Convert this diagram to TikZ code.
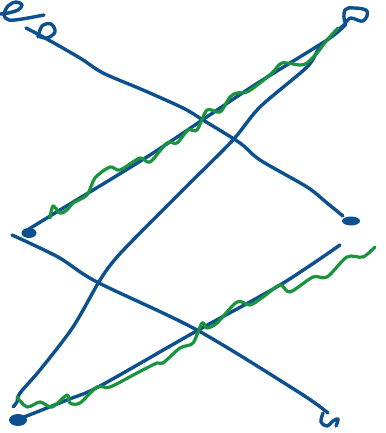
\documentclass[tikz,border=0pt]{standalone}
\definecolor{inkblue}{RGB}{12,80,142}
\definecolor{inkgreen}{RGB}{26,148,60}
\begin{document}
\begin{tikzpicture}[x=1pt,y=-1pt,
  blue/.style={draw=inkblue,line width=3.4pt,line cap=round,line join=round},
  green/.style={draw=inkgreen,line width=3.2pt,line cap=round,line join=round},
  blob/.style={fill=inkblue}]
\useasboundingbox (0,0) rectangle (385,433);
% top-left "e" scribble
\draw[blue] plot[smooth,tension=0.6] coordinates {(0,14) (8,13) (18,10) (22,5) (16,2) (8,6) (4,15) (9,20) (22,19) (44,15)};
% "b" loop and line A
\draw[blue] plot[smooth,tension=0.6] coordinates {(38,37) (42,26) (51,24) (55,32) (47,38) (38,36)};
\draw[blue] plot[smooth,tension=0.5] coordinates {(26,28) (45,38) (80,58) (103,73) (143,90) (183,108) (203,120) (240,143) (260,160) (307,187) (327,203) (343,216)};
\fill[blob] (351,221) ellipse (9pt and 4.5pt);
% top-right loop
\draw[blue] plot[smooth cycle,tension=0.7] coordinates {(345,22) (345,10) (354,8) (367,11) (363,21) (351,18)};
% line B (top right to middle-left blob)
\draw[blue] plot[smooth,tension=0.5] coordinates {(346,24) (327,40) (250,88) (150,155) (60,210) (24,232)};
\fill[blob] (29,233) ellipse (7.5pt and 5pt);
% line C (top right to bottom left)
\draw[blue] plot[smooth,tension=0.5] coordinates {(345,24) (320,47) (307,67) (260,107) (233,140) (193,180) (160,213) (143,230) (117,257) (100,280) (73,327) (40,370) (20,393) (17,402) (13,407)};
% line D (middle-left down to bottom right hook)
\draw[blue] plot[smooth,tension=0.5] coordinates {(12,235) (58,257) (97,282) (197,330) (300,393) (328,413)};
\draw[blue] plot[smooth,tension=0.6] coordinates {(323,413) (321,422) (327,426) (333,421) (338,419) (336,426)};
% line E (bottom left to right)
\draw[blue] plot[smooth,tension=0.5] coordinates {(14,421) (67,400) (100,386) (193,333) (280,285) (340,245)};
\fill[blob] (18,420) ellipse (9pt and 6pt);
% green wave 1
\draw[green] plot[smooth,tension=0.5] coordinates {(50,218) (53,206) (60,213) (67,210) (73,203) (87,195) (95,178) (110,167) (120,170) (140,158) (150,162) (167,143) (177,143) (188,130) (197,130) (207,110) (220,112) (230,97) (237,93) (247,92) (260,83) (273,72) (282,63) (300,65) (307,63) (317,53) (327,40) (338,28)};
% green wave 2
\draw[green] plot[smooth,tension=0.5] coordinates {(17,397) (27,407) (40,402) (52,407) (67,395) (70,403) (80,403) (97,387) (110,387) (137,373) (157,363) (163,363) (180,348) (193,343) (202,323) (207,328) (217,323) (237,302) (250,305) (263,297) (280,285) (290,292) (313,277) (327,277) (347,257) (363,257) (375,247)};
\end{tikzpicture}
\end{document}
